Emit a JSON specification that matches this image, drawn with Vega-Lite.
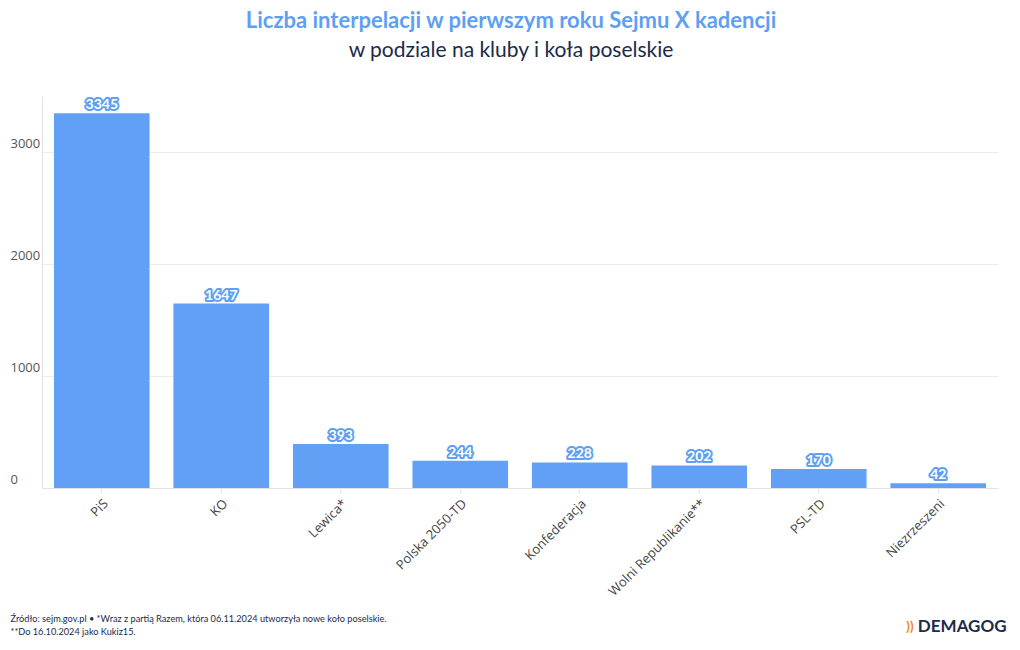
{
  "$schema": "https://vega.github.io/schema/vega-lite/v6.json",
  "width": 956,
  "height": 392,
  "autosize": {"type": "none"},
  "padding": {"left": 42, "top": 96, "right": 22, "bottom": 162},
  "background": "#ffffff",
  "title": {
    "text": "Liczba interpelacji w pierwszym roku Sejmu X kadencji",
    "subtitle": "w podziale na kluby i koła poselskie",
    "anchor": "middle",
    "dx": -9,
    "offset": 34,
    "font": "Lato",
    "fontSize": 22,
    "fontWeight": "bold",
    "color": "#5e9ff2",
    "subtitleFont": "Lato",
    "subtitleFontSize": 21,
    "subtitleColor": "#1c2b4a",
    "subtitlePadding": 7
  },
  "data": {
    "values": [
      {"klub": "PiS", "liczba": 3345},
      {"klub": "KO", "liczba": 1647},
      {"klub": "Lewica*", "liczba": 393},
      {"klub": "Polska 2050-TD", "liczba": 244},
      {"klub": "Konfederacja", "liczba": 228},
      {"klub": "Wolni Republikanie**", "liczba": 202},
      {"klub": "PSL-TD", "liczba": 170},
      {"klub": "Niezrzeszeni", "liczba": 42}
    ]
  },
  "config": {
    "view": {"stroke": null},
    "axis": {"labelFont": "Open Sans", "titleFont": "Lato"}
  },
  "encoding": {
    "x": {
      "field": "klub",
      "type": "nominal",
      "sort": null,
      "scale": {"paddingInner": 0.2, "paddingOuter": 0.1},
      "axis": {
        "title": ["Źródło: sejm.gov.pl • *Wraz z partią Razem, która 06.11.2024 utworzyła nowe koło poselskie.", "**Do 16.10.2024 jako Kukiz15."],
        "titleX": -32,
        "titleY": 126,
        "titleAlign": "left",
        "titleAnchor": "start",
        "titleBaseline": "top",
        "titleFontSize": 9.2,
        "titleFontWeight": "normal",
        "titleColor": "#1c2b4a",
        "titleLineHeight": 13,
        "labelAngle": -45,
        "labelAlign": "right",
        "labelBaseline": "top",
        "labelFontSize": 13,
        "labelColor": "#444444",
        "labelPadding": 4,
        "tickColor": "#e6e6e6",
        "tickSize": 5,
        "domainColor": "#e3e3e3"
      }
    }
  },
  "layer": [
    {
      "mark": {"type": "bar", "color": "#62a0f6"},
      "encoding": {
        "y": {
          "field": "liczba",
          "type": "quantitative",
          "scale": {"domain": [0, 3500], "nice": false},
          "axis": {
            "values": [0, 1000, 2000, 3000],
            "format": "d",
            "title": "DEMAGOG",
            "titleAngle": 0,
            "titleX": 964,
            "titleY": 530,
            "titleAlign": "right",
            "titleBaseline": "middle",
            "titleFontSize": 17,
            "titleFontWeight": "bold",
            "titleColor": "#1c2b4a",
            "labelAlign": "left",
            "labelBaseline": "bottom",
            "labelPadding": 32,
            "labelOffset": -2,
            "labelFontSize": 13,
            "labelColor": "#555555",
            "ticks": false,
            "domainColor": "#e3e3e3",
            "gridColor": "#ececec"
          }
        }
      }
    },
    {
      "encoding": {
        "y": {
          "field": "liczba",
          "type": "quantitative",
          "scale": {"domain": [0, 3500], "nice": false},
          "axis": {
            "orient": "right",
            "labels": false,
            "ticks": false,
            "domain": false,
            "grid": false,
            "title": "))",
            "titleAngle": 0,
            "titleX": -85,
            "titleY": 530,
            "titleAlign": "right",
            "titleBaseline": "middle",
            "titleFontSize": 13,
            "titleFontWeight": "bold",
            "titleColor": "#f0802a"
          }
        },
        "text": {"field": "liczba", "type": "quantitative"}
      },
      "layer": [
        {
          "mark": {"type": "text", "baseline": "bottom", "dy": -1, "font": "Lato", "fontSize": 14, "fontWeight": "bold", "fill": "#5e9ff2", "stroke": "#5e9ff2", "strokeWidth": 4, "strokeJoin": "round"}
        },
        {
          "mark": {"type": "text", "baseline": "bottom", "dy": -1, "font": "Lato", "fontSize": 14, "fontWeight": "bold", "fill": "#ffffff"}
        }
      ]
    }
  ],
  "resolve": {"scale": {"y": "independent"}}
}
